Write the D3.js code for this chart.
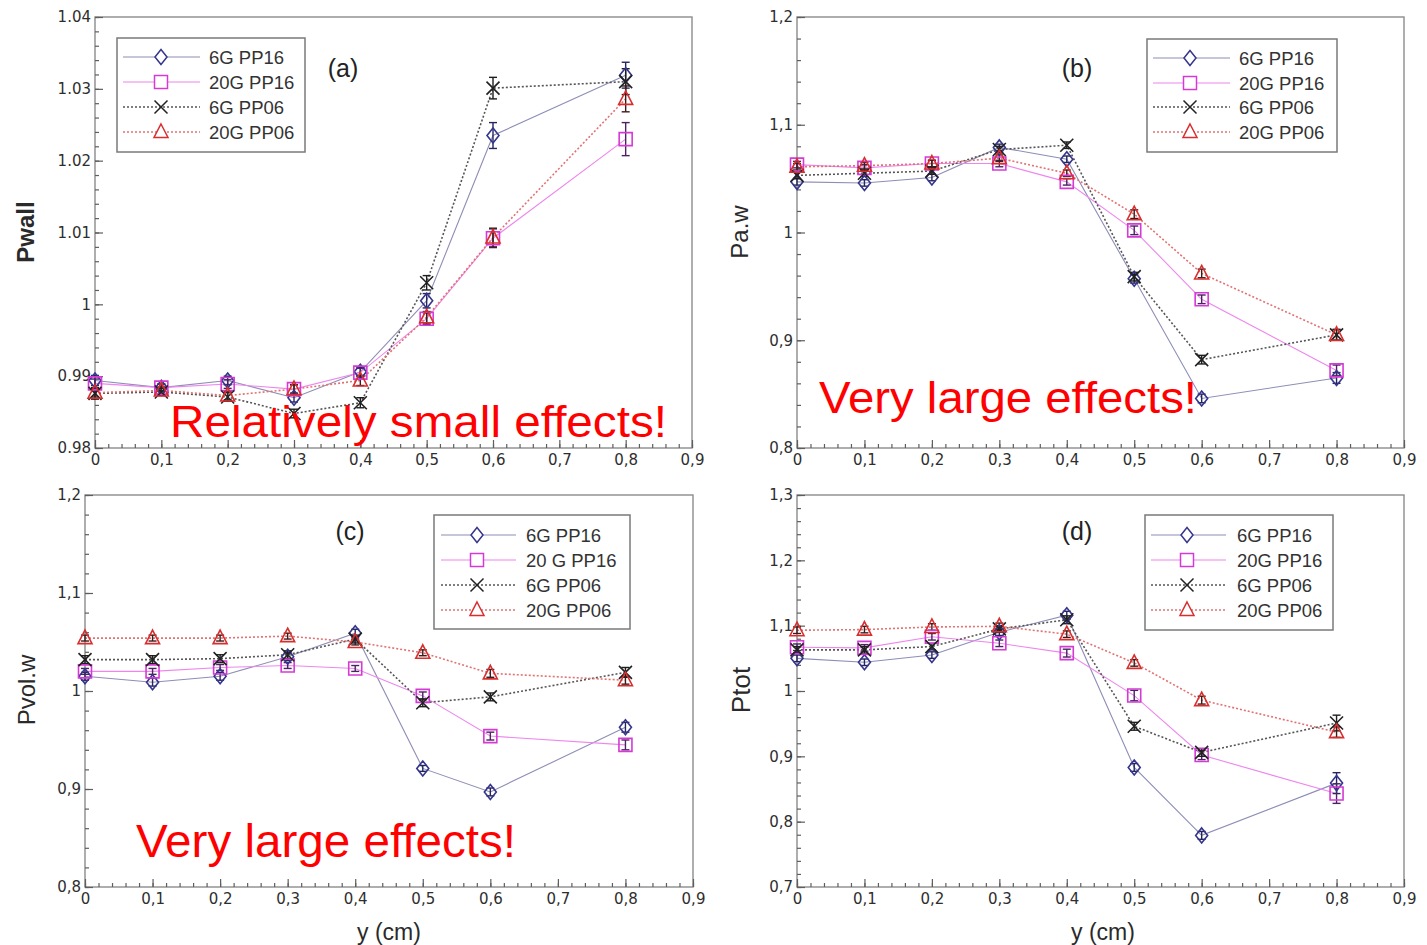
<!DOCTYPE html>
<html>
<head>
<meta charset="utf-8">
<script src="https://cdn.jsdelivr.net/npm/d3@7"></script>
<style>
  body { margin: 0; background: #fff; }
  svg { display: block; }
</style>
</head>
<body>
<svg id="chart" width="1427" height="945"></svg>
<script>
// ---- data ----
const xVals = [0, 0.1, 0.2, 0.3, 0.4, 0.5, 0.6, 0.8];
const seriesNames = ["6G PP16", "20G PP16", "6G PP06", "20G PP06"];
const seriesNamesC = ["6G PP16", "20 G PP16", "6G PP06", "20G PP06"];

const xTickVals = [0, 0.1, 0.2, 0.3, 0.4, 0.5, 0.6, 0.7, 0.8, 0.9];
const xTickLabels = ["0", "0,1", "0,2", "0,3", "0,4", "0,5", "0,6", "0,7", "0,8", "0,9"];

// (a) Pwall
const pwall6G16  = [0.9894, 0.9884, 0.9894, 0.9870, 0.9906, 1.0005, 1.0235, 1.0319];
const pwall20G16 = [0.9890, 0.9884, 0.9889, 0.9882, 0.9905, 0.9980, 1.0092, 1.0230];
const pwall6G06  = [0.9876, 0.9878, 0.9871, 0.9848, 0.9863, 1.0030, 1.0301, 1.0310];
const pwall20G06 = [0.9877, 0.9880, 0.9873, 0.9882, 0.9894, 0.9982, 1.0093, 1.0286];
const pwallErr6G16  = [0.0007, 0.0005, 0.0006, 0.0006, 0.0006, 0.0010, 0.0018, 0.0018];
const pwallErr20G16 = [0.0006, 0.0005, 0.0006, 0.0006, 0.0006, 0.0008, 0.0013, 0.0023];
const pwallErr6G06  = [0.0008, 0.0005, 0.0006, 0.0006, 0.0007, 0.0010, 0.0015, 0.0018];
const pwallErr20G06 = [0.0006, 0.0005, 0.0006, 0.0006, 0.0007, 0.0008, 0.0013, 0.0018];
const yTickValsA = [0.98, 0.99, 1, 1.01, 1.02, 1.03, 1.04];
const yTickLabelsA = ["0.98", "0.99", "1", "1.01", "1.02", "1.03", "1.04"];

// (b) Pa.w
const paw6G16  = [1.047, 1.046, 1.051, 1.079, 1.068, 0.957, 0.846, 0.865];
const paw20G16 = [1.063, 1.060, 1.064, 1.064, 1.047, 1.002, 0.938, 0.872];
const paw6G06  = [1.053, 1.055, 1.057, 1.077, 1.081, 0.959, 0.882, 0.905];
const paw20G06 = [1.061, 1.062, 1.064, 1.069, 1.055, 1.017, 0.962, 0.905];
const pawErr6G16  = [0.003, 0.003, 0.003, 0.003, 0.003, 0.004, 0.004, 0.005];
const pawErr20G16 = [0.003, 0.003, 0.003, 0.003, 0.003, 0.004, 0.004, 0.005];
const pawErr6G06  = [0.003, 0.003, 0.003, 0.003, 0.003, 0.004, 0.004, 0.005];
const pawErr20G06 = [0.003, 0.003, 0.003, 0.003, 0.003, 0.004, 0.004, 0.005];
const yTickValsB = [0.8, 0.9, 1, 1.1, 1.2];
const yTickLabelsB = ["0,8", "0,9", "1", "1,1", "1,2"];

// (c) Pvol.w
const pvol6G16  = [1.015, 1.009, 1.015, 1.035, 1.059, 0.921, 0.897, 0.963];
const pvol20G16 = [1.020, 1.020, 1.024, 1.026, 1.023, 0.995, 0.954, 0.945];
const pvol6G06  = [1.032, 1.032, 1.033, 1.037, 1.053, 0.988, 0.994, 1.019];
const pvol20G06 = [1.054, 1.054, 1.054, 1.056, 1.050, 1.039, 1.018, 1.011];
const pvolErr6G16  = [0.004, 0.004, 0.004, 0.004, 0.004, 0.003, 0.004, 0.005];
const pvolErr20G16 = [0.003, 0.003, 0.003, 0.003, 0.003, 0.004, 0.004, 0.005];
const pvolErr6G06  = [0.004, 0.004, 0.004, 0.004, 0.004, 0.004, 0.004, 0.005];
const pvolErr20G06 = [0.003, 0.003, 0.003, 0.003, 0.003, 0.003, 0.004, 0.004];
const yTickValsC = [0.8, 0.9, 1, 1.1, 1.2];
const yTickLabelsC = ["0,8", "0,9", "1", "1,1", "1,2"];

// (d) Ptot
const ptot6G16  = [1.050, 1.044, 1.055, 1.090, 1.116, 0.883, 0.779, 0.859];
const ptot20G16 = [1.067, 1.066, 1.083, 1.073, 1.058, 0.993, 0.902, 0.843];
const ptot6G06  = [1.063, 1.063, 1.068, 1.095, 1.109, 0.946, 0.906, 0.951];
const ptot20G06 = [1.093, 1.094, 1.098, 1.099, 1.087, 1.043, 0.986, 0.937];
const ptotErr6G16  = [0.005, 0.005, 0.005, 0.005, 0.006, 0.006, 0.006, 0.016];
const ptotErr20G16 = [0.005, 0.005, 0.005, 0.005, 0.006, 0.008, 0.007, 0.015];
const ptotErr6G06  = [0.005, 0.005, 0.005, 0.005, 0.006, 0.006, 0.006, 0.012];
const ptotErr20G06 = [0.005, 0.005, 0.005, 0.005, 0.005, 0.005, 0.006, 0.008];
const yTickValsD = [0.7, 0.8, 0.9, 1, 1.1, 1.2, 1.3];
const yTickLabelsD = ["0,7", "0,8", "0,9", "1", "1,1", "1,2", "1,3"];

// ---- marker shapes ----
const symDiamond = { draw(c) { c.moveTo(0, -7.5); c.lineTo(6, 0); c.lineTo(0, 7.5); c.lineTo(-6, 0); c.closePath(); } };
const symSquare  = { draw(c) { c.moveTo(-6.5, -6.5); c.lineTo(6.5, -6.5); c.lineTo(6.5, 6.5); c.lineTo(-6.5, 6.5); c.closePath(); } };
const symTimes   = { draw(c) { c.moveTo(-6.5, -6.5); c.lineTo(6.5, 6.5); c.moveTo(6.5, -6.5); c.lineTo(-6.5, 6.5); } };
const symTriangle= { draw(c) { c.moveTo(0, -8); c.lineTo(7, 5.5); c.lineTo(-7, 5.5); c.closePath(); } };

const styles = [
  { line: "#8e8eb6", dash: null,  lw: 1.1, mark: "#35358c", sym: symDiamond,  err: "#26265e" },
  { line: "#ee86ee", dash: null,  lw: 1.1, mark: "#d53ad5", sym: symSquare,   err: "#4a2360" },
  { line: "#555555", dash: "2,2", lw: 1.6, mark: "#222222", sym: symTimes,    err: "#1e1e1e" },
  { line: "#e27272", dash: "2,2", lw: 1.6, mark: "#d92e2e", sym: symTriangle, err: "#3a1c1c" }
];

const svg = d3.select("#chart");
const xDomain = [0, 0.9];

const panels = [
  { left: 95, right: 692, top: 17, bottom: 448, dom: [0.98, 1.04], minor: 0.002,
    tv: yTickValsA, tl: yTickLabelsA,
    vals: [pwall6G16, pwall20G16, pwall6G06, pwall20G06],
    errs: [pwallErr6G16, pwallErr20G16, pwallErr6G06, pwallErr20G06],
    title: "Pwall", bold: true, tSize: 24, tx: 26, ty: 232,
    tag: "(a)", tagX: 343, tagY: 77,
    names: seriesNames, leg: { x: 117, y: 38, w: 188, h: 114, l0: 123, l1: 200, mx: 161, tx: 209, ys: [57, 82, 107, 132] },
    note: "Relatively small effects!", nx: 170, ny: 437, ns: 44, nl: 497,
    xTitle: false },
  { left: 797, right: 1404, top: 17, bottom: 448, dom: [0.8, 1.2], minor: 0.02,
    tv: yTickValsB, tl: yTickLabelsB,
    vals: [paw6G16, paw20G16, paw6G06, paw20G06],
    errs: [pawErr6G16, pawErr20G16, pawErr6G06, pawErr20G06],
    title: "Pa.w", bold: false, tSize: 24, tx: 740, ty: 232,
    tag: "(b)", tagX: 1077, tagY: 77,
    names: seriesNames, leg: { x: 1147, y: 39, w: 190, h: 113, l0: 1153, l1: 1230, mx: 1190, tx: 1239, ys: [58, 83, 107, 132] },
    note: "Very large effects!", nx: 819, ny: 413, ns: 45, nl: 378,
    xTitle: false },
  { left: 85, right: 693, top: 495, bottom: 887, dom: [0.8, 1.2], minor: 0.02,
    tv: yTickValsC, tl: yTickLabelsC,
    vals: [pvol6G16, pvol20G16, pvol6G06, pvol20G06],
    errs: [pvolErr6G16, pvolErr20G16, pvolErr6G06, pvolErr20G06],
    title: "Pvol.w", bold: false, tSize: 24, tx: 27, ty: 690,
    tag: "(c)", tagX: 350, tagY: 540,
    names: seriesNamesC, leg: { x: 434, y: 515, w: 196, h: 114, l0: 441, l1: 516, mx: 477, tx: 526, ys: [535, 560, 585, 610] },
    note: "Very large effects!", nx: 136, ny: 857, ns: 46, nl: 380,
    xTitle: true, xtX: 389 },
  { left: 797, right: 1404, top: 495, bottom: 887, dom: [0.7, 1.3], minor: 0.02,
    tv: yTickValsD, tl: yTickLabelsD,
    vals: [ptot6G16, ptot20G16, ptot6G06, ptot20G06],
    errs: [ptotErr6G16, ptotErr20G16, ptotErr6G06, ptotErr20G06],
    title: "Ptot", bold: false, tSize: 26, tx: 741, ty: 690,
    tag: "(d)", tagX: 1077, tagY: 540,
    names: seriesNames, leg: { x: 1145, y: 515, w: 188, h: 115, l0: 1151, l1: 1226, mx: 1187, tx: 1237, ys: [535, 560, 585, 610] },
    note: null,
    xTitle: true, xtX: 1103 }
];

function drawPanel(p) {
  const g = svg.append("g");
  const x = d3.scaleLinear().domain(xDomain).range([p.left, p.right]);
  const y = d3.scaleLinear().domain(p.dom).range([p.bottom, p.top]);

  // frame
  g.append("rect")
    .attr("x", p.left).attr("y", p.top)
    .attr("width", p.right - p.left).attr("height", p.bottom - p.top)
    .attr("fill", "none").attr("stroke", "#8c8c8c").attr("stroke-width", 1.4);

  const tickStyle = s => {
    s.select(".domain").remove();
    s.selectAll(".tick line").attr("stroke", "#5e5e5e").attr("stroke-width", 1.2);
    s.selectAll(".tick text").attr("fill", "#2e2e2e")
      .style("font-family", "'DejaVu Sans', Verdana, sans-serif").style("font-size", "15px");
  };

  // minor ticks (inward)
  const yMinor = d3.range(Math.round((p.dom[1] - p.dom[0]) / p.minor) + 1).map(i => p.dom[0] + i * p.minor);
  const xMinor = d3.range(46).map(i => i * 0.02).filter(v => v <= 0.9 + 1e-9);
  g.append("g").attr("transform", `translate(${p.left},0)`)
    .call(d3.axisLeft(y).tickValues(yMinor).tickSize(-4).tickFormat(""))
    .call(tickStyle);
  g.append("g").attr("transform", `translate(0,${p.bottom})`)
    .call(d3.axisBottom(x).tickValues(xMinor).tickSize(-4).tickFormat(""))
    .call(tickStyle);

  // major ticks
  g.append("g").attr("transform", `translate(${p.left},0)`)
    .call(d3.axisLeft(y).tickValues(p.tv).tickSize(-8).tickPadding(4).tickFormat((d, i) => p.tl[i]))
    .call(tickStyle);
  g.append("g").attr("transform", `translate(0,${p.bottom})`)
    .call(d3.axisBottom(x).tickValues(xTickVals).tickSize(-8).tickPadding(6).tickFormat((d, i) => xTickLabels[i]))
    .call(tickStyle);

  // y title
  g.append("text")
    .attr("transform", `translate(${p.tx},${p.ty}) rotate(-90)`)
    .attr("text-anchor", "middle").attr("dy", "0.35em")
    .style("font-family", "'Liberation Sans', Arial, sans-serif")
    .style("font-size", p.tSize + "px").style("font-weight", p.bold ? "bold" : "normal")
    .attr("fill", "#2a2a2a").text(p.title);

  if (p.xTitle) {
    g.append("text").attr("x", p.xtX).attr("y", 940).attr("text-anchor", "middle")
      .style("font-family", "'Liberation Sans', Arial, sans-serif").style("font-size", "23px")
      .attr("fill", "#2a2a2a").text("y (cm)");
  }

  // panel tag
  g.append("text").attr("x", p.tagX).attr("y", p.tagY).attr("text-anchor", "middle")
    .style("font-family", "'Liberation Sans', Arial, sans-serif").style("font-size", "25px")
    .attr("fill", "#222").text(p.tag);

  // series lines
  p.vals.forEach((vals, si) => {
    const st = styles[si];
    const line = d3.line().x((d, i) => x(xVals[i])).y(d => y(d));
    g.append("path").datum(vals).attr("d", line)
      .attr("fill", "none").attr("stroke", st.line).attr("stroke-width", st.lw)
      .attr("stroke-dasharray", st.dash);
  });

  // error bars
  p.vals.forEach((vals, si) => {
    const st = styles[si];
    const eg = g.append("g").attr("stroke", st.err).attr("stroke-width", 1.4);
    vals.forEach((v, i) => {
      const e = p.errs[si][i];
      const cx = x(xVals[i]), y0 = y(v - e), y1 = y(v + e);
      eg.append("line").attr("x1", cx).attr("x2", cx).attr("y1", y0).attr("y2", y1);
      eg.append("line").attr("x1", cx - 4).attr("x2", cx + 4).attr("y1", y0).attr("y2", y0);
      eg.append("line").attr("x1", cx - 4).attr("x2", cx + 4).attr("y1", y1).attr("y2", y1);
    });
  });

  // markers
  p.vals.forEach((vals, si) => {
    const st = styles[si];
    g.append("g").selectAll("path").data(vals).join("path")
      .attr("transform", (d, i) => `translate(${x(xVals[i])},${y(d)})`)
      .attr("d", d3.symbol().type(st.sym))
      .attr("fill", "none").attr("stroke", st.mark).attr("stroke-width", 1.6);
  });

  // legend
  const L = p.leg;
  const lg = g.append("g");
  lg.append("rect").attr("x", L.x).attr("y", L.y).attr("width", L.w).attr("height", L.h)
    .attr("fill", "#fff").attr("stroke", "#7a7a7a").attr("stroke-width", 1.5);
  p.names.forEach((name, si) => {
    const st = styles[si];
    const ly = L.ys[si];
    lg.append("line").attr("x1", L.l0).attr("x2", L.l1).attr("y1", ly).attr("y2", ly)
      .attr("stroke", st.line).attr("stroke-width", st.lw).attr("stroke-dasharray", st.dash);
    lg.append("path").attr("transform", `translate(${L.mx},${ly})`)
      .attr("d", d3.symbol().type(st.sym)).attr("fill", "#fff")
      .attr("stroke", st.mark).attr("stroke-width", 1.5);
    lg.append("text").attr("x", L.tx).attr("y", ly).attr("dy", "0.36em")
      .style("font-family", "'Liberation Sans', Arial, sans-serif").style("font-size", "18.5px")
      .attr("fill", "#333").text(name);
  });

  // annotation
  if (p.note) {
    g.append("text").attr("x", p.nx).attr("y", p.ny)
      .attr("textLength", p.nl).attr("lengthAdjust", "spacingAndGlyphs")
      .style("font-family", "'Liberation Sans', Arial, sans-serif").style("font-size", p.ns + "px")
      .attr("fill", "#ff0000").text(p.note);
  }
}

panels.forEach(drawPanel);
</script>
</body>
</html>
